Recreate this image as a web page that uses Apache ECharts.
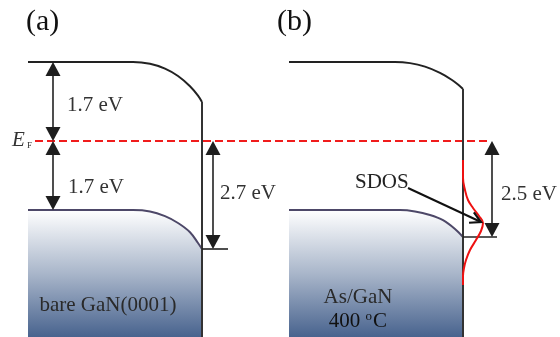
<!DOCTYPE html>
<html>
<head>
<meta charset="utf-8">
<script src="https://cdn.jsdelivr.net/npm/echarts@6/dist/echarts.min.js"></script>
<style>html,body{margin:0;padding:0;background:#fff}#c{width:560px;height:337px}</style>
</head>
<body>
<div id="c"></div>
<script>
// Schematic band diagrams. x = position (arb.), y = energy relative to E_F (schematic eV scale)
const cbA = [[28,1.975],[133,1.975],[150,1.93],[165,1.81],[178,1.625],[190,1.37],[198,1.135],[202,0.975]];
const vbA = [[28,-1.725],[133,-1.725],[150,-1.76],[165,-1.88],[178,-2.05],[190,-2.28],[198,-2.55],[202,-2.7]];
const edgeA = [[202,0.975],[202,-4.9]];
const tickA = [[202,-2.7],[228,-2.7]];

const cbB = [[289,1.975],[395,1.975],[410,1.947],[425,1.86],[440,1.705],[452,1.525],[458,1.41],[463,1.3]];
const vbB = [[289,-1.725],[400,-1.725],[415,-1.76],[430,-1.85],[443,-1.98],[455,-2.2],[463,-2.4]];
const edgeB = [[463,1.3],[463,-4.9]];
const tickB = [[463,-2.4],[497,-2.4]];

const fermi = [[35,0],[488,0]];
const sdos = [[463,-0.475],[463,-0.925],[465,-1.225],[468,-1.475],[473,-1.675],[479,-1.875],[483,-2.05],[481,-2.25],[476,-2.475],[470,-2.725],[466,-2.975],[464,-3.175],[463,-3.375],[463,-3.6]];

// double-headed arrows: [x, top energy, bottom energy]
const gapArrows = [[53,1.975,0],[53,0,-1.725],[213,0,-2.7],[492,0,-2.4]];
// SDOS pointer: [x0, y0, x1, y1]
const sdosArrow = [[408,-1.175,481,-2.025]];

const panelLabels = ['(a)','(b)'];
const gapLabels = ['1.7 eV','1.7 eV','2.7 eV','2.5 eV'];
const sampleLabels = ['bare GaN(0001)','As/GaN'];

const serif = "'Liberation Serif', 'Times New Roman', serif";
const chart = echarts.init(document.getElementById('c'), null, {renderer:'canvas'});

function lineSeries(data, color, width, extra){
  return Object.assign({type:'line', data:data, symbol:'none', silent:true, animation:false,
    lineStyle:{color:color, width:width}, z:3}, extra||{});
}
const grad = new echarts.graphic.LinearGradient(0,0,0,1,[
  {offset:0,color:'#ffffff'},{offset:0.5,color:'#a9b6ca'},{offset:1,color:'#48638e'}]);

function txt(x,y,text,size,opts){
  return {type:'text', x:x, y:y, silent:true, z:10,
    style:Object.assign({text:text, fontFamily:serif, fontSize:size, fill:'#2b2b2b',
      textAlign:'left', textVerticalAlign:'middle', align:'left', verticalAlign:'middle'}, (opts||{}))};
}

chart.setOption({
  animation:false,
  grid:{left:0,right:0,top:0,bottom:0},
  xAxis:{type:'value',min:0,max:560,show:false},
  yAxis:{type:'value',min:-4.9,max:3.525,show:false},
  series:[
    lineSeries(vbA,'#4d4868',2,{smooth:0.35,areaStyle:{origin:'start',color:grad,opacity:1},z:2}),
    lineSeries(vbB,'#4d4868',2,{smooth:0.35,areaStyle:{origin:'start',color:grad,opacity:1},z:2}),
    lineSeries(cbA,'#222222',2,{smooth:0.3}),
    lineSeries(cbB,'#222222',2,{smooth:0.3}),
    lineSeries(fermi,'#f01c1c',2,{lineStyle:{color:'#f01c1c',width:2,type:[8,4]},z:3}),
    lineSeries(edgeA,'#333333',2,{z:4}),
    lineSeries(edgeB,'#333333',2,{z:4}),
    lineSeries(tickA,'#222222',1.6,{z:4}),
    lineSeries(tickB,'#222222',1.6,{z:4}),
    lineSeries(sdos,'#ee1111',2,{smooth:0.4,z:5}),
    {type:'custom', data:gapArrows, clip:false, silent:true, z:6,
      renderItem:function(params, api){
        const x=api.value(0), p1=api.coord([x,api.value(1)]), p2=api.coord([x,api.value(2)]);
        const hw=7.5, hh=14;
        return {type:'group', children:[
          {type:'line', shape:{x1:p1[0],y1:p1[1]+hh-1,x2:p2[0],y2:p2[1]-hh+1}, style:{stroke:'#222',lineWidth:1.6}},
          {type:'polygon', shape:{points:[[p1[0],p1[1]],[p1[0]-hw,p1[1]+hh],[p1[0]+hw,p1[1]+hh]]}, style:{fill:'#1e1e1e'}},
          {type:'polygon', shape:{points:[[p2[0],p2[1]],[p2[0]-hw,p2[1]-hh],[p2[0]+hw,p2[1]-hh]]}, style:{fill:'#1e1e1e'}}
        ]};
      }},
    {type:'custom', data:sdosArrow, clip:false, silent:true, z:7,
      renderItem:function(params, api){
        const p1=api.coord([api.value(0),api.value(1)]), p2=api.coord([api.value(2),api.value(3)]);
        const a=Math.atan2(p2[1]-p1[1],p2[0]-p1[0]), L=12, s=0.5;
        const b1=[p2[0]-L*Math.cos(a-s),p2[1]-L*Math.sin(a-s)], b2=[p2[0]-L*Math.cos(a+s),p2[1]-L*Math.sin(a+s)];
        return {type:'group', children:[
          {type:'line', shape:{x1:p1[0],y1:p1[1],x2:p2[0],y2:p2[1]}, style:{stroke:'#111',lineWidth:2}},
          {type:'polyline', shape:{points:[b1,p2,b2]}, style:{stroke:'#111',lineWidth:2.2,fill:null}}
        ]};
      }}
  ],
  graphic:[
    txt(26,22,panelLabels[0],30,{fill:'#111'}),
    txt(277,22,panelLabels[1],30,{fill:'#111'}),
    txt(67,105,gapLabels[0],21,{fill:'#333'}),
    txt(68,187,gapLabels[1],21,{fill:'#333'}),
    txt(220,193,gapLabels[2],21,{fill:'#333'}),
    txt(501,194,gapLabels[3],21,{fill:'#333'}),
    txt(12,140,'E',21,{fontStyle:'italic',fill:'#333'}),
    txt(27,146,'F',9,{fill:'#333'}),
    txt(355,182,'SDOS',21,{fill:'#222'}),
    txt(108,305,sampleLabels[0],21,{fill:'#2a2a2a',textAlign:'center',align:'center'}),
    txt(358,297,sampleLabels[1],21,{fill:'#2a2a2a',textAlign:'center',align:'center'}),
    {type:'text', x:358, y:321, silent:true, z:10,
      style:{text:'400 {s|o}C', fontFamily:serif, fontSize:21, fill:'#111', align:'center', verticalAlign:'middle', textAlign:'center', textVerticalAlign:'middle',
        rich:{s:{fontSize:13, fontFamily:serif, fill:'#111', verticalAlign:'top', padding:[0,1,8,0]}}}}
  ]
});
</script>
</body>
</html>
